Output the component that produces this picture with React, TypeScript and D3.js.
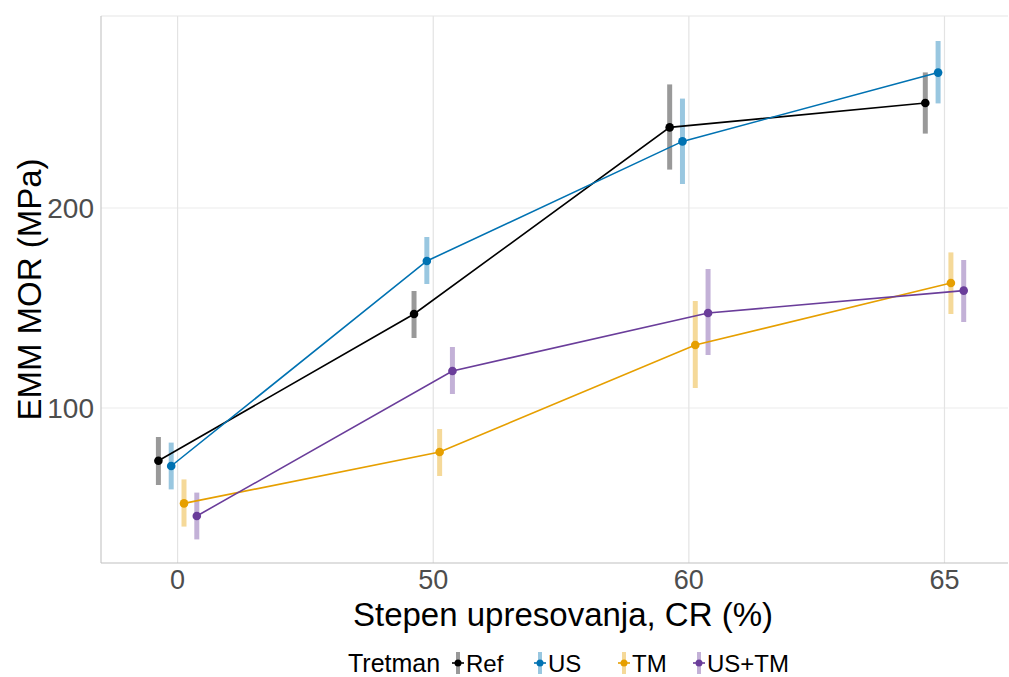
import React from "react";
import * as d3 from "d3";

const categories = ["0", "50", "60", "65"];
const seriesNames = ["Ref", "US", "TM", "US+TM"];
const seriesColors = ["#000000", "#0072B2", "#E69F00", "#6A3D9A"];
const refMean = [73.6, 147, 240.3, 252.5];
const refLow = [61.5, 135, 219.2, 237.2];
const refHigh = [85.5, 158.5, 261.8, 267.8];
const usMean = [71, 173.5, 233.3, 267.7];
const usLow = [59.3, 162, 212, 252.3];
const usHigh = [82.7, 185.5, 254.7, 283.5];
const tmMean = [52.3, 78, 131.5, 162.5];
const tmLow = [40.7, 66, 110, 147];
const tmHigh = [64.3, 89.5, 153.5, 177.8];
const ustmMean = [46, 118.5, 147.5, 158.7];
const ustmLow = [34.3, 107, 126.5, 143];
const ustmHigh = [57.7, 130.5, 169.5, 174];
const yTicks = [100, 200];

const means = [refMean, usMean, tmMean, ustmMean];
const lows = [refLow, usLow, tmLow, ustmLow];
const highs = [refHigh, usHigh, tmHigh, ustmHigh];

const W = 1009;
const H = 677;
const panel = { left: 101, right: 1008, top: 16, bottom: 563 };
const font = "'Liberation Sans', Arial, sans-serif";

export default function App() {
  const x = d3.scalePoint<string>().domain(categories).range([177.6, 944.5]);
  const dodge = d3
    .scalePoint<string>()
    .domain(seriesNames)
    .range([-19.2, 19.2]);
  const y = d3.scaleLinear().domain([22.5, 296]).range([panel.bottom, panel.top]);
  const line = d3
    .line<[number, number]>()
    .x((d) => d[0])
    .y((d) => d[1]);

  const legendItems = [
    { x: 458, tx: 466 },
    { x: 540, tx: 548 },
    { x: 624, tx: 632 },
    { x: 699, tx: 707 },
  ];

  return (
    <svg
      width={W}
      height={H}
      style={{ position: "absolute", left: 0, top: 0, background: "#fff" }}
      fontFamily={font}
    >
      <rect x={0} y={0} width={W} height={H} fill="#fff" />
      {/* grid */}
      {yTicks.map((t) => (
        <line
          key={"gy" + t}
          x1={panel.left}
          x2={panel.right}
          y1={y(t)}
          y2={y(t)}
          stroke="#ebebeb"
          strokeWidth={1.2}
        />
      ))}
      {categories.map((c) => (
        <line
          key={"gx" + c}
          x1={x(c)}
          x2={x(c)}
          y1={panel.top}
          y2={panel.bottom}
          stroke="#e3e3e3"
          strokeWidth={1.2}
        />
      ))}
      <line x1={panel.left} x2={panel.right} y1={panel.top} y2={panel.top} stroke="#e6e6e6" strokeWidth={1.2} />
      {/* axis lines */}
      <line x1={panel.left} x2={panel.left} y1={panel.top} y2={panel.bottom} stroke="#c8c8c8" strokeWidth={1.2} />
      <line x1={panel.left} x2={panel.right} y1={panel.bottom} y2={panel.bottom} stroke="#c0c0c0" strokeWidth={1.2} />
      {/* y tick labels */}
      {yTicks.map((t) => (
        <text
          key={"ty" + t}
          x={94}
          y={y(t)}
          dy="0.36em"
          textAnchor="end"
          fontSize={28}
          fill="#4d4d4d"
        >
          {t}
        </text>
      ))}
      {/* x tick labels */}
      {categories.map((c) => (
        <text key={"tx" + c} x={x(c)} y={589} textAnchor="middle" fontSize={27} fill="#4d4d4d">
          {c}
        </text>
      ))}
      {/* titles */}
      <text x={563} y={626} textAnchor="middle" fontSize={33} fill="#000">
        Stepen upresovanja, CR (%)
      </text>
      <text
        transform={`translate(41,${(panel.top + panel.bottom) / 2}) rotate(-90)`}
        textAnchor="middle"
        fontSize={33}
        fill="#000"
      >
        EMM MOR (MPa)
      </text>
      {/* error bars */}
      {seriesNames.map((s, i) =>
        categories.map((c, j) => (
          <line
            key={"eb" + s + c}
            x1={(x(c) as number) + (dodge(s) as number)}
            x2={(x(c) as number) + (dodge(s) as number)}
            y1={y(lows[i][j])}
            y2={y(highs[i][j])}
            stroke={seriesColors[i]}
            strokeOpacity={0.4}
            strokeWidth={5}
          />
        ))
      )}
      {/* lines */}
      {seriesNames.map((s, i) => (
        <path
          key={"ln" + s}
          d={
            line(
              categories.map((c, j) => [
                (x(c) as number) + (dodge(s) as number),
                y(means[i][j]),
              ])
            ) as string
          }
          fill="none"
          stroke={seriesColors[i]}
          strokeWidth={1.6}
        />
      ))}
      {/* points */}
      {seriesNames.map((s, i) =>
        categories.map((c, j) => (
          <circle
            key={"pt" + s + c}
            cx={(x(c) as number) + (dodge(s) as number)}
            cy={y(means[i][j])}
            r={4.3}
            fill={seriesColors[i]}
          />
        ))
      )}
      {/* legend */}
      <text x={348} y={672} fontSize={25} fill="#000">
        Tretman
      </text>
      {seriesNames.map((s, i) => (
        <g key={"lg" + s}>
          <line
            x1={legendItems[i].x}
            x2={legendItems[i].x}
            y1={652}
            y2={674}
            stroke={seriesColors[i]}
            strokeOpacity={0.4}
            strokeWidth={4}
          />
          <line
            x1={legendItems[i].x - 6}
            x2={legendItems[i].x + 6}
            y1={663}
            y2={663}
            stroke={seriesColors[i]}
            strokeWidth={1.6}
          />
          <circle cx={legendItems[i].x} cy={663} r={3.5} fill={seriesColors[i]} />
          <text x={legendItems[i].tx} y={672} fontSize={24} fill="#000">
            {s}
          </text>
        </g>
      ))}
    </svg>
  );
}
